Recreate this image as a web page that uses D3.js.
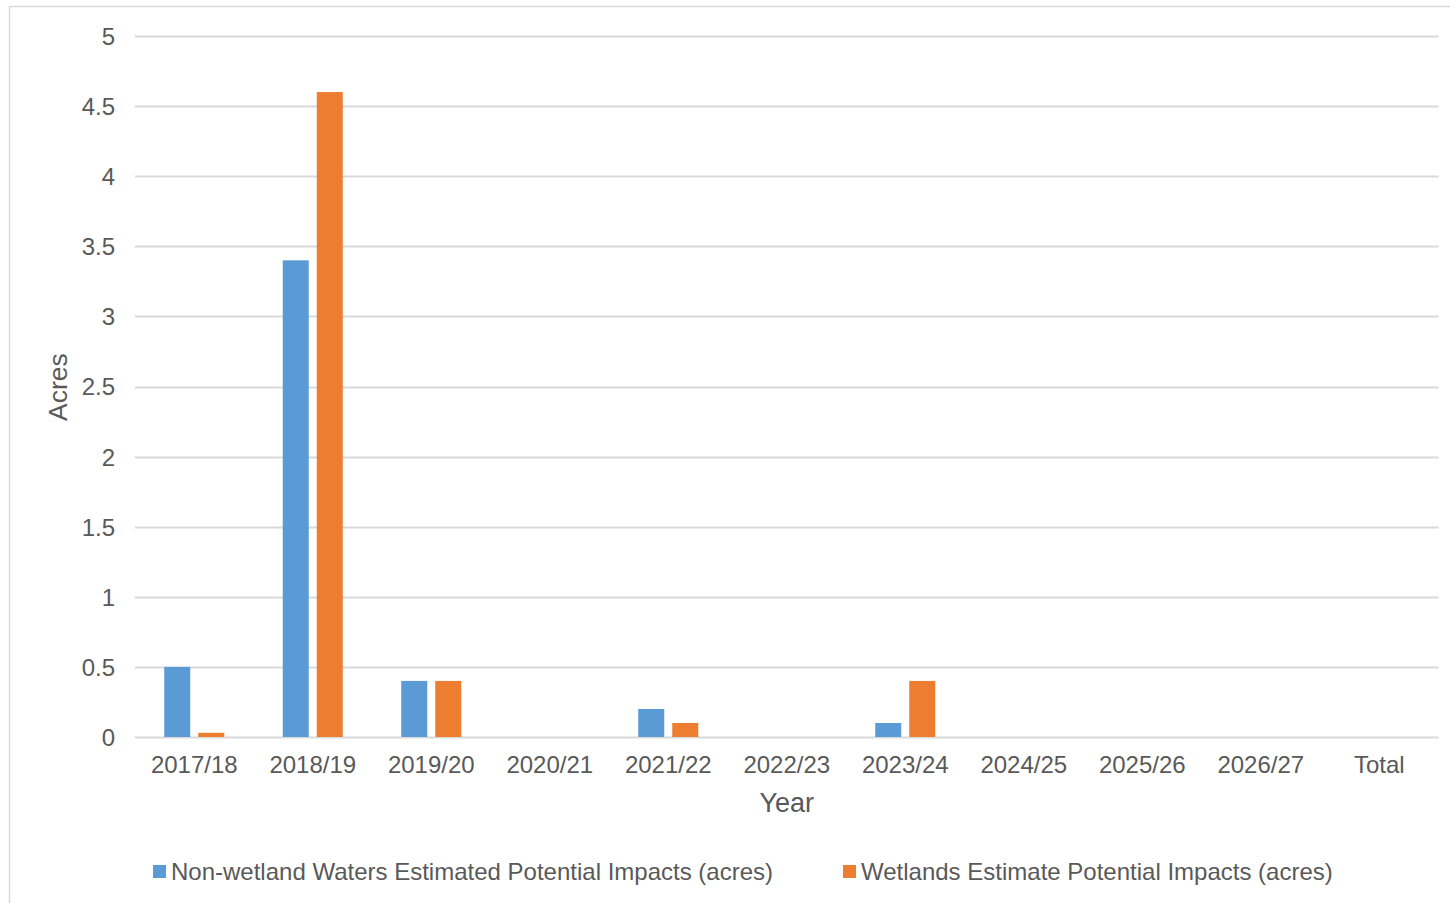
<!DOCTYPE html>
<html>
<head>
<meta charset="utf-8">
<script src="https://cdn.jsdelivr.net/npm/d3@7"></script>
<style>
  html, body { margin: 0; padding: 0; background: #fff; }
  svg { display: block; font-family: "Liberation Sans", Arial, sans-serif; }
</style>
</head>
<body>
<svg id="chart" width="1450" height="903"></svg>
<script>
// Fiscal years on the category axis
const categories = ["2017/18", "2018/19", "2019/20", "2020/21", "2021/22", "2022/23", "2023/24", "2024/25", "2025/26", "2026/27", "Total"];
// Estimated potential impacts, acres (null = no bar)
const nonWetland = [0.5, 3.4, 0.4, null, 0.2, null, 0.1, null, null, null, null];
const wetlands   = [0.03, 4.6, 0.4, null, 0.1, null, 0.4, null, null, null, null];
const seriesNames = ["Non-wetland Waters Estimated Potential Impacts (acres)", "Wetlands Estimate Potential Impacts (acres)"];
const seriesColors = ["#5B9BD5", "#ED7D31"];
const yTicks = [0, 0.5, 1, 1.5, 2, 2.5, 3, 3.5, 4, 4.5, 5];

const svg = d3.select("#chart");
const textColor = "#595959";
const gridColor = "#D9D9D9";

// outer chart frame (runs off the right and bottom edges)
svg.append("rect")
  .attr("x", 9.5).attr("y", 6.5)
  .attr("width", 1460).attr("height", 920)
  .attr("fill", "none").attr("stroke", gridColor).attr("stroke-width", 1.5);

const plot = { left: 135, right: 1438.5, top: 36, bottom: 737 };

const x0 = d3.scaleBand()
  .domain(categories)
  .range([plot.left, plot.right])
  .paddingInner(0.4935)
  .paddingOuter(0.4935 / 2);

const x1 = d3.scaleBand()
  .domain([0, 1])
  .range([0, x0.bandwidth()])
  .paddingInner(8 / 34);

const y = d3.scaleLinear().domain([0, 5]).range([plot.bottom, plot.top]);

// gridlines
svg.append("g")
  .selectAll("line")
  .data(yTicks)
  .join("line")
  .attr("x1", plot.left).attr("x2", plot.right)
  .attr("y1", d => Math.round(y(d)) + 0.5).attr("y2", d => Math.round(y(d)) + 0.5)
  .attr("stroke", gridColor).attr("stroke-width", 2);

// y axis labels
const yAxis = d3.axisLeft(y).tickValues(yTicks).tickSize(0).tickPadding(0).tickFormat(d3.format("~g"));
const gy = svg.append("g").attr("transform", `translate(115,0)`).call(yAxis);
gy.select(".domain").remove();
gy.selectAll("text").attr("fill", textColor).style("font-size", "24px").attr("dy", "0.35em");

// bars
const data = categories.map((c, i) => ({ c, vals: [nonWetland[i], wetlands[i]] }));
const groups = svg.append("g").selectAll("g")
  .data(data)
  .join("g")
  .attr("transform", d => `translate(${x0(d.c)},0)`);
groups.selectAll("rect")
  .data(d => d.vals.map((v, k) => ({ v, k })).filter(e => e.v !== null))
  .join("rect")
  .attr("x", e => x1(e.k))
  .attr("width", x1.bandwidth())
  .attr("y", e => y(e.v))
  .attr("height", e => y(0) - y(e.v))
  .attr("fill", e => seriesColors[e.k]);

// x axis labels
const xAxis = d3.axisBottom(x0).tickSize(0).tickPadding(0);
const gx = svg.append("g").attr("transform", `translate(0,${plot.bottom + 20})`).call(xAxis);
gx.select(".domain").remove();
gx.selectAll("text").attr("fill", textColor).style("font-size", "24px").attr("dy", "0.67em");

// axis titles
svg.append("text")
  .attr("x", (plot.left + plot.right) / 2).attr("y", 812)
  .attr("text-anchor", "middle").attr("fill", textColor)
  .style("font-size", "27px").text("Year");
svg.append("text")
  .attr("transform", "translate(67,387) rotate(-90)")
  .attr("text-anchor", "middle").attr("fill", textColor)
  .style("font-size", "26.5px").text("Acres");

// legend
const legendX = [153, 843];
const legend = svg.append("g").selectAll("g")
  .data(seriesNames)
  .join("g")
  .attr("transform", (d, i) => `translate(${legendX[i]},865)`);
legend.append("rect").attr("width", 13).attr("height", 13).attr("fill", (d, i) => seriesColors[i]);
legend.append("text")
  .attr("x", 18).attr("y", 15)
  .attr("fill", textColor).style("font-size", "24px")
  .text(d => d);
</script>
</body>
</html>
